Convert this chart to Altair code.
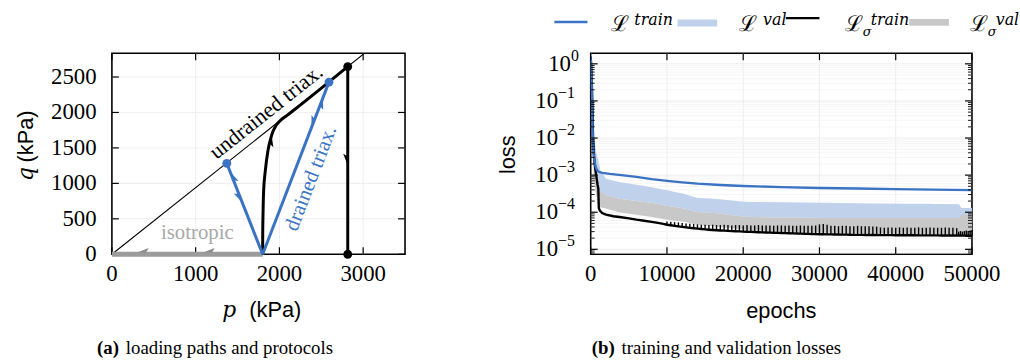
import math
import altair as alt
import pandas as pd

SERIF = "Liberation Serif"
MATH = "DejaVu Serif"
SANS = "Liberation Sans"
BLUE = "#3a73c4"
LIGHT_BLUE = "#c0d1ec"
GREY_BAND = "#c8c8c8"
GREY_PATH = "#9c9c9c"
GRID = "#e9e9e9"
ARROW_SHAPE = "M0,-1L0.75,0.9L0,0.45Z"

# ------------------------------------------------------------------
# (a) loading paths in the p-q plane
# ------------------------------------------------------------------
W_A, H_A = 296, 203
P_DOM = [0, 3500]
Q_DOM = [0, 2835]

csl_p = [0, 3060]
csl_q = [0, 2876]
iso_p = [0, 1800]
iso_q = [0, 0]
undrained_p = [1800, 1801, 1805, 1812, 1832, 1863, 1911, 1960, 2020, 2088, 2186, 2816]
undrained_q = [0, 300, 600, 901, 1180, 1460, 1693, 1815, 1895, 1955, 2045, 2647]
unload_p = [2816, 2816]
unload_q = [2647, 0]
comp_p = [1800, 2592]
comp_q = [0, 2428]
ext_p = [1800, 1372]
ext_q = [0, 1282]
blue_dot_p = [2592, 1372]
blue_dot_q = [2428, 1282]
black_dot_p = [2816, 2816]
black_dot_q = [2647, 0]

# arrow heads: location and heading (dp, dq) along the path
arrow_p = [1439, 1530, 2495, 2410, 1890, 2816, 375, 1163]
arrow_q = [1080, 810, 2130, 1870, 1600, 1340, 25, 25]
arrow_dp = [-428, 428, 792, -792, 40, 0, -1, -1]
arrow_dq = [1282, -1282, 2428, -2428, 200, -1, 0, 0]
arrow_col = [BLUE, BLUE, BLUE, BLUE, "black", "black", "#8c8c8c", "#8c8c8c"]

x_ticks_a = [0, 1000, 2000, 3000]
y_ticks_a = [0, 500, 1000, 1500, 2000, 2500]

SX = W_A / (P_DOM[1] - P_DOM[0])
SY = H_A / (Q_DOM[1] - Q_DOM[0])


def screen_angle(dp, dq):
    """Clockwise angle from 'up' of a heading given in data units."""
    return math.degrees(math.atan2(dp * SX, dq * SY)) % 360


def text_angle(dp, dq):
    return (-math.degrees(math.atan2(dq * SY, dp * SX))) % 360


xs_a = alt.Scale(domain=P_DOM, nice=False, zero=False)
ys_a = alt.Scale(domain=Q_DOM, nice=False, zero=False)


def XA():
    return alt.X("p:Q", scale=xs_a, axis=None)


def YA():
    return alt.Y("q:Q", scale=ys_a, axis=None)


def path_df(p, q):
    return pd.DataFrame({"p": p, "q": q, "o": list(range(len(p)))})


def label(text, x, y, size=22, font=SERIF, angle=0, align="center",
          baseline="middle", color="black", style="normal", weight="normal"):
    kw = dict(text=text, font=font, fontSize=size, align=align,
              baseline=baseline, color=color, fontStyle=style, fontWeight=weight)
    if angle:
        kw["angle"] = angle
    return alt.Chart(pd.DataFrame({"k": [0]})).mark_text(**kw).encode(
        x=alt.value(x), y=alt.value(y))


xt_a = pd.DataFrame({"p": x_ticks_a, "lab": [str(v) for v in x_ticks_a]})
yt_a = pd.DataFrame({"q": y_ticks_a, "lab": [str(v) for v in y_ticks_a]})

a_layers = [
    # grid
    alt.Chart(xt_a[xt_a.p > 0]).mark_rule(color=GRID, strokeWidth=0.8).encode(x=XA()),
    alt.Chart(yt_a[yt_a.q > 0]).mark_rule(color=GRID, strokeWidth=0.8).encode(y=YA()),
    # inward ticks
    alt.Chart(xt_a).mark_rule(color="black", strokeWidth=1.2).encode(
        x=XA(), y=alt.value(H_A), y2=alt.value(H_A - 7)),
    alt.Chart(xt_a).mark_rule(color="black", strokeWidth=1.2).encode(
        x=XA(), y=alt.value(0), y2=alt.value(7)),
    alt.Chart(yt_a).mark_rule(color="black", strokeWidth=1.2).encode(
        y=YA(), x=alt.value(0), x2=alt.value(7)),
    alt.Chart(yt_a).mark_rule(color="black", strokeWidth=1.2).encode(
        y=YA(), x=alt.value(W_A), x2=alt.value(W_A - 7)),
    # tick labels
    alt.Chart(xt_a).mark_text(font=SERIF, fontSize=23, align="center",
                              baseline="alphabetic").encode(
        x=XA(), y=alt.value(H_A + 27), text="lab:N"),
    alt.Chart(yt_a).mark_text(font=SERIF, fontSize=23, align="right",
                              baseline="middle").encode(
        y=YA(), x=alt.value(-15.5), text="lab:N"),
    # critical state line
    alt.Chart(path_df(csl_p, csl_q)).mark_line(color="black", strokeWidth=1.1, clip=True).encode(
        x=XA(), y=YA(), order="o:Q"),
    # isotropic compression
    alt.Chart(path_df(iso_p, iso_q)).mark_line(color=GREY_PATH, strokeWidth=5).encode(
        x=XA(), y=YA(), order="o:Q"),
    # undrained triaxial + unloading
    alt.Chart(path_df(undrained_p, undrained_q)).mark_line(
        color="black", strokeWidth=3, interpolate="monotone").encode(
        x=XA(), y=YA(), order="o:Q"),
    alt.Chart(path_df(unload_p, unload_q)).mark_line(color="black", strokeWidth=3).encode(
        x=XA(), y=YA(), order="o:Q"),
    # drained triaxial compression / extension
    alt.Chart(path_df(comp_p, comp_q)).mark_line(color=BLUE, strokeWidth=3).encode(
        x=XA(), y=YA(), order="o:Q"),
    alt.Chart(path_df(ext_p, ext_q)).mark_line(color=BLUE, strokeWidth=3).encode(
        x=XA(), y=YA(), order="o:Q"),
    alt.Chart(pd.DataFrame({"p": blue_dot_p, "q": blue_dot_q})).mark_circle(
        color=BLUE, size=80, opacity=1).encode(x=XA(), y=YA()),
    alt.Chart(pd.DataFrame({"p": black_dot_p, "q": black_dot_q})).mark_circle(
        color="black", size=80, opacity=1).encode(x=XA(), y=YA()),
    alt.Chart(pd.DataFrame({
        "p": arrow_p, "q": arrow_q, "c": arrow_col,
        "ang": [screen_angle(dp, dq) for dp, dq in zip(arrow_dp, arrow_dq)],
    })).mark_point(shape=ARROW_SHAPE, filled=True, size=150, opacity=1).encode(
        x=XA(), y=YA(), color=alt.Color("c:N", scale=None),
        angle=alt.Angle("ang:Q", scale=None)),
    # path annotations
    alt.Chart(pd.DataFrame({"p": [1840], "q": [2010]})).mark_text(
        text="undrained triax.", font=SERIF, fontSize=22, color="black",
        angle=text_angle(1, 0.94)).encode(x=XA(), y=YA()),
    alt.Chart(pd.DataFrame({"p": [2380], "q": [1070]})).mark_text(
        text="drained triax.", font=SERIF, fontSize=21, color=BLUE,
        angle=text_angle(792, 2428)).encode(x=XA(), y=YA()),
    alt.Chart(pd.DataFrame({"p": [1020], "q": [300]})).mark_text(
        text="isotropic", font=SERIF, fontSize=21, color="#a9a9a9").encode(x=XA(), y=YA()),
    # axis titles
    label("q", -86.5, 122, font=MATH, style="italic", angle=270),
    label("(kPa)", -86.5, 84, font=SANS, angle=270),
    label("p", 118.5, 259, font=MATH, style="italic"),
    label("(kPa)", 165, 259, font=SANS),
    # caption
    label("(a)", -15, 298, size=19, align="left", weight="bold"),
    label("loading paths and protocols", 14, 298, size=19, align="left"),
]
panel_a = alt.layer(*a_layers).properties(width=W_A, height=H_A)

# ------------------------------------------------------------------
# (b) training and validation losses
# ------------------------------------------------------------------
W_B, H_B = 385, 203
EP_DOM = [0, 50000]
LOSS_DOM = [7.35e-6, 1.93]

# L^train
train_ep = [0, 100, 200, 300, 400, 600, 800, 1000, 1500, 2500, 4000, 6000, 8000,
            10000, 12000, 14000, 17000, 20000, 25000, 30000, 35000, 40000, 45000, 50000]
train_loss = [1.6, 0.5, 0.04, 7e-3, 3.5e-3, 1.8e-3, 1.4e-3, 1.25e-3, 1.15e-3, 1.08e-3,
              1.0e-3, 9.0e-4, 7.8e-4, 7.0e-4, 6.4e-4, 5.9e-4, 5.4e-4, 5.1e-4, 4.75e-4,
              4.5e-4, 4.35e-4, 4.2e-4, 4.08e-4, 3.95e-4]

# L^val (fluctuating band)
val_ep = [0, 150, 300, 450, 600, 800, 1000, 1300, 2000, 3700, 6000, 8000, 10000,
          12300, 14000, 16200, 20500, 25000, 30500, 35000, 40700, 44000, 48300, 48600, 50000]
val_hi = [1.9, 1.9, 0.3, 0.02, 6e-3, 3.5e-3, 2.5e-3, 1.3e-3, 8e-4, 6.5e-4, 5.5e-4, 4.7e-4,
          3.9e-4, 3.1e-4, 2.4e-4, 2.3e-4, 1.9e-4, 1.85e-4, 1.8e-4, 1.75e-4, 1.7e-4, 1.7e-4,
          1.65e-4, 1.3e-4, 1.3e-4]
val_lo = [0.3, 0.05, 4e-3, 1.5e-3, 8e-4, 5e-4, 4e-4, 3.3e-4, 2.9e-4, 2.3e-4, 2.0e-4, 1.8e-4,
          1.5e-4, 1.26e-4, 1.0e-4, 9.5e-5, 7.4e-5, 7.2e-5, 7.0e-5, 7.0e-5, 7.0e-5, 7.0e-5,
          7.0e-5, 7.4e-5, 7.4e-5]

# L_sigma^val (fluctuating band)
sval_ep = val_ep
sval_hi = [1.9, 1.0, 0.05, 5e-3, 1.5e-3, 8e-4, 4.3e-4, 3.5e-4, 2.9e-4, 2.3e-4, 2.0e-4,
           1.8e-4, 1.5e-4, 1.26e-4, 1.0e-4, 9.5e-5, 7.4e-5, 7.2e-5, 7.0e-5, 7.0e-5, 7.0e-5,
           7.0e-5, 7.0e-5, 8.5e-5, 8.5e-5]
sval_lo = [0.2, 0.02, 2e-3, 8e-4, 4e-4, 2.5e-4, 1.5e-4, 1.35e-4, 1.26e-4, 1.0e-4, 8.5e-5,
           7.4e-5, 6.3e-5, 5.5e-5, 4.5e-5, 4.2e-5, 3.3e-5, 3.0e-5, 2.8e-5, 2.7e-5, 2.6e-5,
           2.6e-5, 2.6e-5, 2.4e-5, 2.4e-5]

# L_sigma^train: smooth descent, then periodic spikes every 500 epochs
strain_ep_early = [0, 150, 300, 450, 600, 750, 900, 1000, 1060, 1200, 1500, 2000, 3000,
                   4000, 5000, 6000, 7000, 8000, 9000, 9500]
strain_early = [1.5, 0.3, 0.01, 3e-3, 1.5e-3, 9e-4, 5.5e-4, 4.3e-4, 1.3e-4, 1.1e-4, 9.5e-5,
                8.6e-5, 7.8e-5, 7.3e-5, 6.8e-5, 6.3e-5, 5.9e-5, 5.5e-5, 5.1e-5, 4.85e-5]
spike_ep = list(range(10000, 48001, 500))
spike_lo_e5 = [4.60, 4.45, 4.30, 4.15, 4.02, 3.90, 3.80, 3.70, 3.60, 3.52, 3.45, 3.38, 3.32,
               3.27, 3.22, 3.18, 3.14, 3.10, 3.07, 3.04, 3.01, 2.98, 2.95, 2.92, 2.89, 2.86,
               2.84, 2.81, 2.79, 2.77, 2.75, 2.73, 2.71, 2.69, 2.67, 2.65, 2.63, 2.61, 2.59,
               2.57, 2.55, 2.54, 2.53, 2.52, 2.51, 2.50, 2.49, 2.48, 2.47, 2.46, 2.45, 2.45,
               2.44, 2.44, 2.43, 2.43, 2.42, 2.42, 2.41, 2.41, 2.40, 2.40, 2.40, 2.39, 2.39,
               2.39, 2.38, 2.38, 2.38, 2.37, 2.37, 2.37, 2.36, 2.36, 2.36, 2.35, 2.35]
spike_hi_e5 = [5.6, 5.5, 5.4, 5.3, 5.15, 5.0, 4.9, 4.8, 4.7,
               4.6, 4.6, 4.5, 4.6, 4.5, 4.5, 4.6, 4.5, 4.4, 4.5, 4.5, 4.4, 4.5, 4.4, 4.4,
               4.5, 4.4, 4.4, 4.4, 4.3, 4.4, 4.4, 4.3, 4.4, 4.3, 4.3, 4.4, 4.3, 4.3, 4.3,
               4.4, 4.7, 4.8, 4.6, 4.3, 4.3, 4.2, 4.3, 4.3, 4.2, 4.2, 4.3, 4.2, 4.2, 4.2,
               4.1, 4.1,
               3.9, 3.8, 3.9, 3.9, 3.8, 3.9, 3.8, 3.9, 3.8, 3.8, 3.9, 3.8, 3.8, 3.9, 3.8,
               3.8, 3.8, 3.9, 3.8, 3.8, 3.7]
late_ep = [48250, 48500, 48750, 49000, 49250, 49500, 49750, 50000]
late_lo_e5 = [2.35, 2.35, 2.34, 2.34, 2.33, 2.33, 2.32, 2.32]
late_hi_e5 = [3.0, 3.1, 3.0, 3.1, 3.2, 3.1, 3.2, 3.3]

x_ticks_b = [0, 10000, 20000, 30000, 40000, 50000]
decades = [-5, -4, -3, -2, -1, 0]

xs_b = alt.Scale(domain=EP_DOM, nice=False, zero=False)
ys_b = alt.Scale(type="log", domain=LOSS_DOM, nice=False)


def XB():
    return alt.X("ep:Q", scale=xs_b, axis=None)


def YB(field="v"):
    return alt.Y(f"{field}:Q", scale=ys_b, axis=None)


major_v = [10.0 ** k for k in decades]
minor_v = [m * 10.0 ** k for k in range(-6, 1) for m in range(2, 10)
           if LOSS_DOM[0] <= m * 10.0 ** k <= LOSS_DOM[1]]

spike_df = pd.DataFrame({
    "ep": spike_ep + late_ep,
    "v": [x * 1e-5 for x in spike_lo_e5 + late_lo_e5],
    "v2": [x * 1e-5 for x in spike_hi_e5 + late_hi_e5],
})
strain_df = pd.DataFrame({
    "ep": strain_ep_early + spike_ep + late_ep,
    "v": strain_early + [x * 1e-5 for x in spike_lo_e5 + late_lo_e5],
})

xt_b = pd.DataFrame({"ep": x_ticks_b, "lab": [str(v) for v in x_ticks_b]})
ymaj = pd.DataFrame({"v": major_v})
ymin = pd.DataFrame({"v": minor_v})

exp_df = pd.DataFrame({"v": major_v,
                       "e": ["0" if k == 0 else "\u2212" + str(-k) for k in decades]})


def legend_math(x, sup, sub=None):
    sup_x = x + (26 if sub else 24)
    parts = [label("\u2112", x, -22, size=22, font=MATH, align="left", baseline="alphabetic"),
             label(sup, sup_x, -29, size=16, font=MATH, style="italic", align="left",
                   baseline="alphabetic")]
    if sub:
        parts.append(label(sub, x + 18, -17, size=13, font=MATH, style="italic",
                           align="left", baseline="alphabetic"))
    return parts


b_layers = [
    alt.Chart(xt_b[(xt_b.ep > 0) & (xt_b.ep < 50000)]).mark_rule(
        color=GRID, strokeWidth=0.8).encode(x=XB()),
    alt.Chart(ymin).mark_rule(color="#f1f1f1", strokeWidth=0.7).encode(y=YB()),
    alt.Chart(ymaj).mark_rule(color=GRID, strokeWidth=0.8).encode(y=YB()),
    # L^val band
    alt.Chart(pd.DataFrame({"ep": val_ep, "v": val_hi, "v2": val_lo})).mark_area(
        color=LIGHT_BLUE, opacity=1, clip=True).encode(x=XB(), y=YB(), y2="v2:Q"),
    # L_sigma^val band
    alt.Chart(pd.DataFrame({"ep": sval_ep, "v": sval_hi, "v2": sval_lo})).mark_area(
        color=GREY_BAND, opacity=1, clip=True).encode(x=XB(), y=YB(), y2="v2:Q"),
    # L_sigma^train
    alt.Chart(spike_df).mark_rule(color="black", strokeWidth=1.4).encode(
        x=XB(), y=YB(), y2="v2:Q"),
    alt.Chart(strain_df).mark_line(color="black", strokeWidth=2.4, clip=True).encode(
        x=XB(), y=YB()),
    # L^train
    alt.Chart(pd.DataFrame({"ep": train_ep, "v": train_loss})).mark_line(
        color=BLUE, strokeWidth=2.4, clip=True).encode(x=XB(), y=YB()),
    # inward ticks
    alt.Chart(xt_b).mark_rule(color="black", strokeWidth=1.2).encode(
        x=XB(), y=alt.value(H_B), y2=alt.value(H_B - 7)),
    alt.Chart(xt_b).mark_rule(color="black", strokeWidth=1.2).encode(
        x=XB(), y=alt.value(0), y2=alt.value(7)),
    alt.Chart(ymaj).mark_rule(color="black", strokeWidth=1.2).encode(
        y=YB(), x=alt.value(0), x2=alt.value(7)),
    alt.Chart(ymaj).mark_rule(color="black", strokeWidth=1.2).encode(
        y=YB(), x=alt.value(W_B), x2=alt.value(W_B - 7)),
    alt.Chart(ymin).mark_rule(color="black", strokeWidth=0.9).encode(
        y=YB(), x=alt.value(0), x2=alt.value(4)),
    alt.Chart(ymin).mark_rule(color="black", strokeWidth=0.9).encode(
        y=YB(), x=alt.value(W_B), x2=alt.value(W_B - 4)),
    # tick labels
    alt.Chart(xt_b).mark_text(font=SERIF, fontSize=23, align="center",
                              baseline="alphabetic").encode(
        x=XB(), y=alt.value(H_B + 27), text="lab:N"),
    alt.Chart(exp_df[exp_df.e == "0"]).mark_text(
        text="10", font=SERIF, fontSize=23, align="right", baseline="middle").encode(
        y=YB(), x=alt.value(-20)),
    alt.Chart(exp_df[exp_df.e != "0"]).mark_text(
        text="10", font=SERIF, fontSize=23, align="right", baseline="middle").encode(
        y=YB(), x=alt.value(-33)),
    alt.Chart(exp_df[exp_df.e == "0"]).mark_text(
        font=SERIF, fontSize=16, align="left", baseline="middle", dy=-8).encode(
        y=YB(), x=alt.value(-20), text="e:N"),
    alt.Chart(exp_df[exp_df.e != "0"]).mark_text(
        font=SERIF, fontSize=16, align="left", baseline="middle", dy=-8).encode(
        y=YB(), x=alt.value(-33), text="e:N"),
    # axis titles
    label("loss", -83.5, 102.5, font=SANS, angle=270),
    label("epochs", 192.5, 260, font=SANS),
    # legend
    alt.Chart(pd.DataFrame({"k": [0]})).mark_rule(color=BLUE, strokeWidth=2.4).encode(
        x=alt.value(-36.7), x2=alt.value(-3.3), y=alt.value(-31.5)),
    alt.Chart(pd.DataFrame({"k": [0]})).mark_rule(color=LIGHT_BLUE, strokeWidth=7).encode(
        x=alt.value(87.7), x2=alt.value(127.7), y=alt.value(-30.5)),
    alt.Chart(pd.DataFrame({"k": [0]})).mark_rule(color="black", strokeWidth=2.4).encode(
        x=alt.value(197), x2=alt.value(231), y=alt.value(-35.5)),
    alt.Chart(pd.DataFrame({"k": [0]})).mark_rule(color=GREY_BAND, strokeWidth=7).encode(
        x=alt.value(321.7), x2=alt.value(361.7), y=alt.value(-31.2)),
    *legend_math(20, "train"),
    *legend_math(150, "val"),
    *legend_math(256.7, "train", "\u03c3"),
    *legend_math(383, "val", "\u03c3"),
    # caption
    label("(b)", 1, 298, size=19, align="left", weight="bold"),
    label("training and validation losses", 31, 298, size=19, align="left"),
]
panel_b = alt.layer(*b_layers).properties(width=W_B, height=H_B)

chart = alt.hconcat(panel_a, panel_b, spacing=187.5, bounds="flush").properties(
    padding={"left": 14, "top": 9, "right": 0, "bottom": 0},
    background="white",
).configure_view(stroke="black", strokeWidth=1.6)

chart.save("out.html", embed_options={"renderer": "svg", "actions": False})
